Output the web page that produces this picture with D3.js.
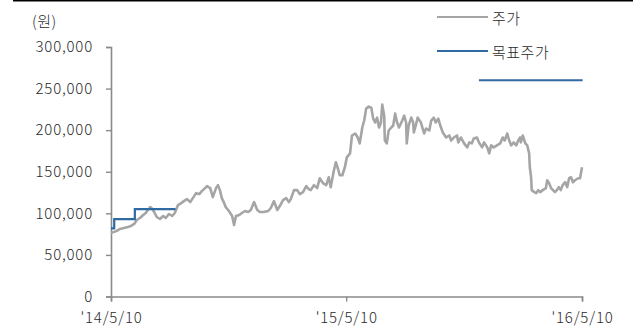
<!DOCTYPE html>
<html>
<head>
<meta charset="utf-8">
<script src="https://cdn.jsdelivr.net/npm/d3@7"></script>
<style>
  html, body { margin: 0; padding: 0; background: #fff; }
  svg { display: block; }
  text { font-family: "Noto Sans CJK KR", "Noto Sans", sans-serif; fill: #2a2a2a; font-weight: 300; }
</style>
</head>
<body>
<svg id="chart" width="638" height="336"></svg>
<script>
// Share price (원), daily closes sampled
const priceDates = [
  "2014-05-10","2014-05-15","2014-05-19","2014-05-24","2014-05-30","2014-06-05","2014-06-10","2014-06-15","2014-06-19","2014-06-24",
  "2014-06-29","2014-07-03","2014-07-06","2014-07-10","2014-07-13","2014-07-16","2014-07-20","2014-07-25","2014-07-30","2014-08-03",
  "2014-08-08","2014-08-13","2014-08-17","2014-08-22","2014-08-27","2014-08-31","2014-09-05","2014-09-10","2014-09-14","2014-09-19",
  "2014-09-24","2014-09-28","2014-10-03","2014-10-06","2014-10-11","2014-10-15","2014-10-20","2014-10-23","2014-10-26","2014-10-29",
  "2014-11-01","2014-11-04","2014-11-09","2014-11-14","2014-11-17","2014-11-20","2014-11-25","2014-11-29","2014-12-04","2014-12-09",
  "2014-12-13","2014-12-18","2014-12-23","2014-12-27","2015-01-02","2015-01-09","2015-01-13","2015-01-18","2015-01-23","2015-01-27",
  "2015-02-01","2015-02-06","2015-02-10","2015-02-13","2015-02-18","2015-02-23","2015-02-27","2015-03-04","2015-03-09","2015-03-13",
  "2015-03-16","2015-03-21","2015-03-26","2015-03-30","2015-04-04","2015-04-09","2015-04-13","2015-04-16","2015-04-21","2015-04-24",
  "2015-04-27","2015-04-30","2015-05-04","2015-05-08","2015-05-11","2015-05-16","2015-05-19","2015-05-24","2015-05-28","2015-05-31",
  "2015-06-04","2015-06-07","2015-06-10","2015-06-14","2015-06-18","2015-06-21","2015-06-24","2015-06-27","2015-06-30","2015-07-03",
  "2015-07-05","2015-07-08","2015-07-09","2015-07-12","2015-07-15","2015-07-19","2015-07-22","2015-07-25","2015-07-28","2015-07-31",
  "2015-08-05","2015-08-08","2015-08-11","2015-08-12","2015-08-15","2015-08-19","2015-08-22","2015-08-23","2015-08-26","2015-08-29",
  "2015-09-03","2015-09-08","2015-09-11","2015-09-16","2015-09-19","2015-09-23","2015-09-26","2015-09-30","2015-10-03","2015-10-07",
  "2015-10-12","2015-10-17","2015-10-20","2015-10-24","2015-10-29","2015-10-31","2015-11-04","2015-11-09","2015-11-14","2015-11-17",
  "2015-11-21","2015-11-24","2015-11-29","2015-12-02","2015-12-07","2015-12-10","2015-12-15","2015-12-18","2015-12-21","2015-12-25",
  "2015-12-30","2016-01-04","2016-01-08","2016-01-11","2016-01-15","2016-01-18","2016-01-21","2016-01-25","2016-01-29","2016-02-01",
  "2016-02-04","2016-02-05","2016-02-08","2016-02-12","2016-02-15","2016-02-18","2016-02-19","2016-02-21","2016-02-22","2016-02-26",
  "2016-02-29","2016-03-03","2016-03-06","2016-03-10","2016-03-15","2016-03-17","2016-03-20","2016-03-23","2016-03-26","2016-03-29",
  "2016-04-01","2016-04-04","2016-04-07","2016-04-10","2016-04-14","2016-04-17","2016-04-20","2016-04-23","2016-04-26","2016-04-29",
  "2016-05-04","2016-05-07","2016-05-10"
];
const priceValues = [
  76500,77700,78900,81300,82500,83700,84900,87200,92000,94400,
  98000,100400,104000,107600,105200,101600,95600,93200,96800,94400,
  99200,96800,100400,110000,112300,114700,117100,113500,118300,124300,
  123100,126700,130300,132700,130300,119500,130300,133900,127900,118300,
  113500,107600,102800,96800,86100,96800,98000,100400,102800,101600,
  104000,113500,104000,101600,101600,102800,106400,114700,104000,108800,
  115900,118300,113500,117100,127900,127900,123100,125500,132700,129100,
  127900,133900,130300,142200,136300,133900,143400,131500,151800,161400,
  154200,145800,145800,155400,167300,172100,193600,196000,191200,184100,
  203200,211600,225900,228300,227100,213900,209200,215100,203200,209200,
  230700,217500,187600,184100,199600,203200,205600,219900,209200,203200,
  211600,217500,209200,184100,205600,215100,209200,197200,205600,215100,
  209200,196000,202000,199600,211600,215100,209200,213900,205600,197200,
  191200,193600,187600,191200,193600,185300,191200,184100,179300,185300,
  184100,190000,191200,185300,179300,185300,179300,172100,181700,179300,
  181700,184100,191200,187600,196000,187600,181700,185300,181700,187600,
  191200,185300,193600,184100,181700,172100,155400,143400,127900,125500,
  124300,127900,125500,127900,130300,139800,136300,130300,127900,125500,
  127900,131500,127900,133900,137400,131500,142200,143400,137400,139800,
  142200,142200,155400
];

// Target price (원); null marks a period without a target
const targetDates  = ["2014-05-10","2014-05-15","2014-06-16","2014-08-18","2014-08-19","2015-12-02","2016-05-11"];
const targetValues = [82000, 93000, 105000, 105000, null, 260000, 260000];

const yTicks = [0, 50000, 100000, 150000, 200000, 250000, 300000];
const xTickDates = ["2014-05-10", "2015-05-10", "2016-05-10"];
const xTickLabels = ["'14/5/10", "'15/5/10", "'16/5/10"];

const seriesNames = ["주가", "목표주가"];
const seriesColors = ["#a5a5a5", "#2f6aa3"];
const unitLabel = "(원)";

const parse = d3.timeParse("%Y-%m-%d");
const price = priceDates.map((d, i) => ({ date: parse(d), value: priceValues[i] }));
const target = targetDates.map((d, i) => ({ date: parse(d), value: targetValues[i] }));

const svg = d3.select("#chart");
const margin = { left: 111, right: 56, top: 47, bottom: 39.5 };
const W = 638, H = 336;

const x = d3.scaleTime()
  .domain([parse(xTickDates[0]), parse(xTickDates[2])])
  .range([margin.left, W - margin.right]);
const y = d3.scaleLinear()
  .domain([0, 300000])
  .range([H - margin.bottom, margin.top]);

// top rule
svg.append("line")
  .attr("x1", 13).attr("x2", 633)
  .attr("y1", 0.8).attr("y2", 0.8)
  .attr("stroke", "#000").attr("stroke-width", 1.6);

// unit label
svg.append("text")
  .attr("x", 32).attr("y", 20)
  .attr("dominant-baseline", "central")
  .style("font-size", "15px")
  .style("letter-spacing", "0.5px")
  .text(unitLabel);

const tickFont = sel => sel
  .style("font-size", "15px")
  .style("letter-spacing", "0.8px")
  .style("font-family", "'Noto Sans CJK KR', sans-serif")
  .style("font-weight", "300")
  .attr("fill", "#2a2a2a");

// y axis
const yAxis = svg.append("g")
  .attr("transform", `translate(${margin.left},0)`)
  .call(d3.axisLeft(y).tickValues(yTicks).tickSize(5).tickPadding(13)
    .tickFormat(d3.format(",")));
yAxis.select(".domain").attr("stroke", "#8a8a8a").attr("stroke-width", 1.6);
yAxis.selectAll(".tick line").attr("stroke", "#8a8a8a").attr("stroke-width", 1.4);
yAxis.selectAll(".tick text").call(tickFont);

// x axis
const xAxis = svg.append("g")
  .attr("transform", `translate(0,${H - margin.bottom})`)
  .call(d3.axisBottom(x).tickValues(xTickDates.map(parse)).tickSize(5).tickPadding(11)
    .tickFormat((d, i) => xTickLabels[i]));
xAxis.select(".domain").attr("stroke", "#8a8a8a").attr("stroke-width", 1.6);
xAxis.selectAll(".tick line").attr("stroke", "#8a8a8a").attr("stroke-width", 1.4);
xAxis.selectAll(".tick text").call(tickFont);

// price line
svg.append("path")
  .datum(price)
  .attr("fill", "none")
  .attr("stroke", seriesColors[0])
  .attr("stroke-width", 2.6)
  .attr("stroke-linejoin", "round")
  .attr("d", d3.line().x(d => x(d.date)).y(d => y(d.value)));

// target price step line
svg.append("path")
  .datum(target)
  .attr("fill", "none")
  .attr("stroke", seriesColors[1])
  .attr("stroke-width", 2.2)
  .attr("d", d3.line()
    .defined(d => d.value !== null)
    .curve(d3.curveStepAfter)
    .x(d => x(d.date)).y(d => y(d.value)));

// legend
const legend = svg.append("g");
seriesNames.forEach((name, i) => {
  const ly = 17 + i * 34;
  legend.append("line")
    .attr("x1", 437).attr("x2", 488)
    .attr("y1", ly).attr("y2", ly)
    .attr("stroke", seriesColors[i]).attr("stroke-width", 2.2);
  legend.append("text")
    .attr("x", 492).attr("y", ly)
    .attr("dominant-baseline", "central")
    .style("font-size", "15px")
    .style("letter-spacing", "0.5px")
    .text(name);
});
</script>
</body>
</html>
